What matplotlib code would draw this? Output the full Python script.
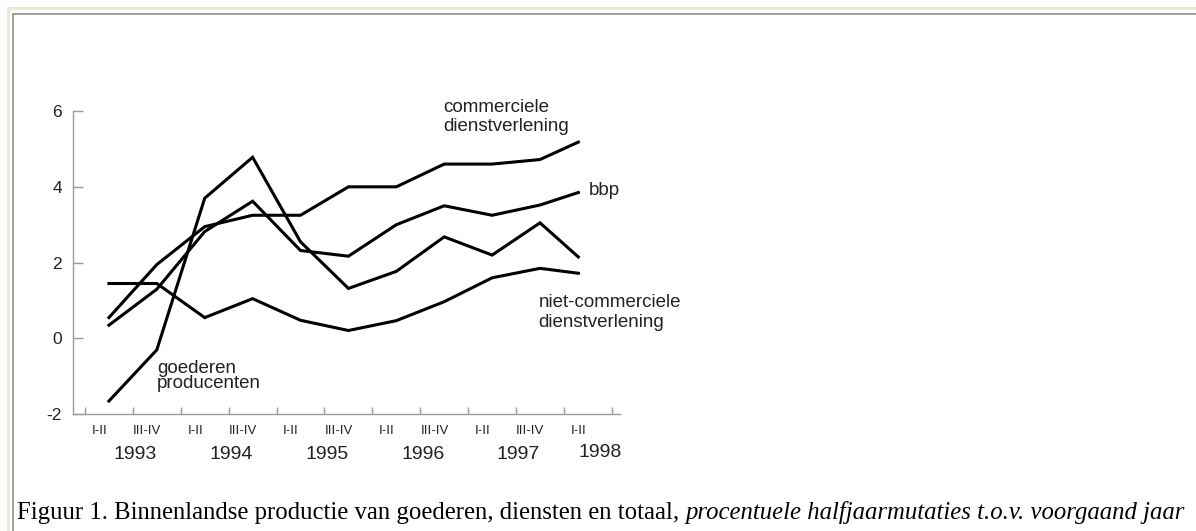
"""Binnenlandse productie van goederen, diensten en totaal (halfjaarmutaties)"""
import numpy as np
import matplotlib
matplotlib.use("Agg")
import matplotlib.pyplot as plt
from matplotlib.lines import Line2D


## ------ Data ------- ##

periods = ["I-II", "III-IV"] * 5 + ["I-II"]
years = ["1993", "1994", "1995", "1996", "1997", "1998"]

# half-year index of each observation (last one drawn a bit short, as in the original)
x_pos = [0.5, 1.5, 2.5, 3.5, 4.5, 5.5, 6.5, 7.5, 8.5, 9.5, 10.3]

commercieel = [0.55, 1.95, 2.95, 3.25, 3.25, 4.0, 4.0, 4.6, 4.6, 4.72, 5.18]
bbp = [0.35, 1.3, 2.82, 3.62, 2.32, 2.17, 3.0, 3.5, 3.25, 3.52, 3.85]
goederen = [-1.65, -0.3, 3.7, 4.78, 2.55, 1.32, 1.77, 2.68, 2.2, 3.05, 2.15]
niet_commercieel = [1.45, 1.45, 0.55, 1.05, 0.48, 0.21, 0.47, 0.97, 1.6, 1.85, 1.72]

CAPTION_REGULAR = "Figuur 1. Binnenlandse productie van goederen, diensten en totaal, "
CAPTION_ITALIC = "procentuele halfjaarmutaties t.o.v. voorgaand jaar"

W, H = 1196, 531
AXIS_GREY = "#9a9a9a"
TEXT_COL = "#222222"
SANS = ["Liberation Sans", "DejaVu Sans"]


fig = plt.figure(figsize=(W / 100, H / 100), dpi=100)

# page frame (beige outer line, grey inner line)
fig.add_artist(Line2D([8 / W, 8 / W], [0, 1 - 8 / H], color="#ece9d8", lw=2.2))
fig.add_artist(Line2D([8 / W, 1], [1 - 8 / H, 1 - 8 / H], color="#ece9d8", lw=2.2))
fig.add_artist(Line2D([13 / W, 13 / W], [0, 1 - 14 / H], color="#a09e98", lw=1.4))
fig.add_artist(Line2D([13 / W, 1], [1 - 14 / H, 1 - 14 / H], color="#a09e98", lw=1.4))

ax = fig.add_axes([73 / W, (H - 414.3) / H, (620 - 73) / W, (414.3 - 111) / H])

for series in (commercieel, bbp, goederen, niet_commercieel):
    ax.plot(x_pos, series, color="black", lw=2.2, solid_joinstyle="miter",
            clip_on=False)

ax.set_xlim(-0.25, 11.17)
ax.set_ylim(-2, 6)

for side in ("top", "right"):
    ax.spines[side].set_visible(False)
for side in ("left", "bottom"):
    ax.spines[side].set_color(AXIS_GREY)
    ax.spines[side].set_linewidth(1.0)

ax.set_yticks([-2, 0, 2, 4, 6])
ax.set_yticklabels(["-2", "0", "2", "4", "6"], family=SANS, fontsize=12.5,
                   color=TEXT_COL)
ax.tick_params(axis="y", direction="in", length=7.5, width=1.0,
               color=AXIS_GREY, pad=8)

# short ticks at every half-year border, long ones below the axis between years
ax.set_xticks(np.arange(12))
ax.set_xticklabels([])
ax.set_xticks([2, 4, 6, 8, 10], minor=True)
ax.tick_params(axis="x", which="major", direction="in", length=5, width=1.0,
               color=AXIS_GREY)
ax.tick_params(axis="x", which="minor", direction="out", length=22, width=1.0,
               color=AXIS_GREY)

xt = ax.get_xaxis_transform()
for i, p in enumerate(periods):
    ax.text(i + 0.3, -0.056, p, transform=xt, ha="center", va="center",
            family=SANS, fontsize=9.5, color=TEXT_COL)
for k, yr in enumerate(years):
    if yr == "1998":
        ax.text(10.75, -0.125, yr, transform=xt, ha="center", va="center",
                family=SANS, fontsize=14, color=TEXT_COL)
    else:
        ax.text(2 * k + 1.05, -0.132, yr, transform=xt, ha="center",
                va="center", family=SANS, fontsize=14, color=TEXT_COL)

# series labels
lab = dict(family=SANS, fontsize=13.5, color=TEXT_COL, clip_on=False)
ax.text(7.49, 6.32, "commerciele\ndienstverlening", ha="left", va="top",
        linespacing=1.2, **lab)
ax.text(10.52, 3.9, "bbp", ha="left", va="center", **lab)
ax.text(9.47, 0.69, "niet-commerciele\ndienstverlening", ha="left",
        va="center", linespacing=1.25, **lab)
ax.text(1.5, -1.0, "goederen\nproducenten", ha="left", va="center",
        linespacing=0.85, **lab)

# caption: regular part followed by italic part on the same baseline
cap = dict(family=["Liberation Serif", "DejaVu Serif"], fontsize=17.8,
           color="black")
t1 = fig.text(17 / W, 1 - 524 / H, CAPTION_REGULAR, ha="left", va="bottom",
              **cap)
ax.annotate(CAPTION_ITALIC, xy=(1, 0), xycoords=t1, ha="left", va="bottom",
            style="italic", annotation_clip=False, **cap)

fig.savefig("out.png", dpi=100)
